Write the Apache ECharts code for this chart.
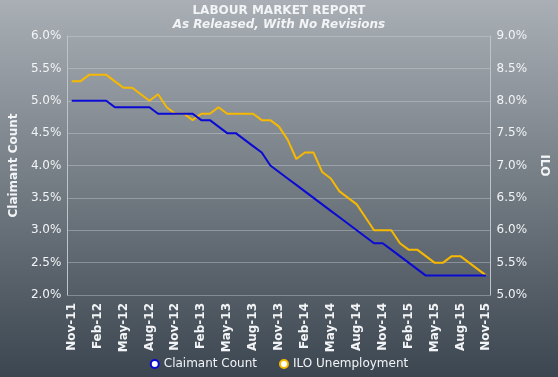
<!DOCTYPE html>
<html>
<head>
<meta charset="utf-8">
<script src="https://cdn.jsdelivr.net/npm/echarts@6/dist/echarts.min.js"></script>
<style>
html, body { margin: 0; padding: 0; }
#main { width: 558px; height: 377px; }
</style>
</head>
<body>
<div id="main"></div>
<script>
var months = [
    'Nov-11', 'Dec-11', 'Jan-12', 'Feb-12', 'Mar-12', 'Apr-12', 'May-12', 'Jun-12', 'Jul-12', 'Aug-12', 'Sep-12', 'Oct-12',
    'Nov-12', 'Dec-12', 'Jan-13', 'Feb-13', 'Mar-13', 'Apr-13', 'May-13', 'Jun-13', 'Jul-13', 'Aug-13', 'Sep-13', 'Oct-13',
    'Nov-13', 'Dec-13', 'Jan-14', 'Feb-14', 'Mar-14', 'Apr-14', 'May-14', 'Jun-14', 'Jul-14', 'Aug-14', 'Sep-14', 'Oct-14',
    'Nov-14', 'Dec-14', 'Jan-15', 'Feb-15', 'Mar-15', 'Apr-15', 'May-15', 'Jun-15', 'Jul-15', 'Aug-15', 'Sep-15', 'Oct-15',
    'Nov-15'
];
// claimant count rate, %
var claimant = [
    5.0, 5.0, 5.0, 5.0, 5.0, 4.9, 4.9, 4.9, 4.9, 4.9, 4.8, 4.8,
    4.8, 4.8, 4.8, 4.7, 4.7, 4.6, 4.5, 4.5, 4.4, 4.3, 4.2, 4.0,
    3.9, 3.8, 3.7, 3.6, 3.5, 3.4, 3.3, 3.2, 3.1, 3.0, 2.9, 2.8,
    2.8, 2.7, 2.6, 2.5, 2.4, 2.3, 2.3, 2.3, 2.3, 2.3, 2.3, 2.3,
    2.3
];
// ILO unemployment rate, %
var ilo = [
    8.3, 8.3, 8.4, 8.4, 8.4, 8.3, 8.2, 8.2, 8.1, 8.0, 8.1, 7.9,
    7.8, 7.8, 7.7, 7.8, 7.8, 7.9, 7.8, 7.8, 7.8, 7.8, 7.7, 7.7,
    7.6, 7.4, 7.1, 7.2, 7.2, 6.9, 6.8, 6.6, 6.5, 6.4, 6.2, 6.0,
    6.0, 6.0, 5.8, 5.7, 5.7, 5.6, 5.5, 5.5, 5.6, 5.6, 5.5, 5.4,
    5.3
];

var blue = '#0a0ad2';
var gold = '#f7b900';
var txt = '#f2f4f6';
var font = 'DejaVu Sans';

var myChart = echarts.init(document.getElementById('main'));
var option = {
    backgroundColor: new echarts.graphic.LinearGradient(0, 0, 0, 1, [
        { offset: 0, color: '#a9afb5' },
        { offset: 1, color: '#3c4650' }
    ]),
    animation: false,
    title: {
        text: 'LABOUR MARKET REPORT',
        subtext: 'As Released, With No Revisions',
        left: 'center',
        top: 0,
        itemGap: 2,
        textStyle: { color: txt, fontFamily: font, fontSize: 12, fontWeight: 'bold' },
        subtextStyle: { color: txt, fontFamily: font, fontSize: 12, fontWeight: 'bold', fontStyle: 'italic' }
    },
    legend: {
        bottom: 2,
        left: 'center',
        itemWidth: 8,
        itemHeight: 8,
        itemGap: 22,
        textStyle: { color: txt, fontFamily: font, fontSize: 12 },
        data: [
            { name: 'Claimant Count', icon: 'circle', itemStyle: { color: '#ffffff', borderColor: blue, borderWidth: 2 } },
            { name: 'ILO Unemployment', icon: 'circle', itemStyle: { color: '#ffffff', borderColor: gold, borderWidth: 2 } }
        ]
    },
    grid: { left: 59, right: 61, top: 36, bottom: 82 },
    xAxis: {
        type: 'category',
        data: months,
        boundaryGap: true,
        axisLine: { show: false },
        axisTick: { show: false },
        axisLabel: {
            interval: 2,
            rotate: 90,
            margin: 8,
            color: txt,
            fontFamily: font,
            fontSize: 12,
            fontWeight: 'bold'
        }
    },
    yAxis: [{
        type: 'value',
        name: 'Claimant Count',
        nameLocation: 'middle',
        nameGap: 44,
        nameTextStyle: { color: txt, fontFamily: font, fontSize: 12, fontWeight: 'bold' },
        min: 2,
        max: 6,
        interval: 0.5,
        axisLine: { show: true, lineStyle: { color: '#bfc4c9', width: 1 } },
        axisTick: { show: false },
        axisLabel: {
            color: txt,
            fontFamily: font,
            fontSize: 12,
            margin: 6,
            formatter: function (v) { return v.toFixed(1) + '%'; }
        },
        splitLine: { lineStyle: { color: 'rgba(210,215,220,0.38)', width: 1 } }
    }, {
        type: 'value',
        name: 'ILO',
        nameLocation: 'middle',
        nameRotate: -90,
        nameGap: 46,
        nameTextStyle: { color: txt, fontFamily: font, fontSize: 12, fontWeight: 'bold' },
        min: 5,
        max: 9,
        interval: 0.5,
        axisLine: { show: true, lineStyle: { color: '#bfc4c9', width: 1 } },
        axisTick: { show: false },
        axisLabel: {
            color: txt,
            fontFamily: font,
            fontSize: 12,
            margin: 6,
            formatter: function (v) { return v.toFixed(1) + '%'; }
        },
        splitLine: { show: false }
    }],
    series: [{
        name: 'Claimant Count',
        type: 'line',
        yAxisIndex: 0,
        data: claimant,
        showSymbol: false,
        symbol: 'none',
        lineStyle: { color: blue, width: 2 },
        itemStyle: { color: blue },
        z: 3
    }, {
        name: 'ILO Unemployment',
        type: 'line',
        yAxisIndex: 1,
        data: ilo,
        showSymbol: false,
        symbol: 'none',
        lineStyle: { color: gold, width: 2 },
        itemStyle: { color: gold },
        z: 2
    }]
};
myChart.setOption(option);
</script>
</body>
</html>
